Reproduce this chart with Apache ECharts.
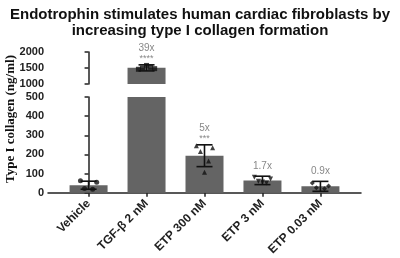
<!DOCTYPE html>
<html>
<head>
<meta charset="utf-8">
<script src="https://cdn.jsdelivr.net/npm/echarts@6/dist/echarts.min.js"></script>
<style>
  html, body { margin: 0; padding: 0; background: #fff; }
  #chart { width: 400px; height: 258px; }
</style>
</head>
<body>
<div id="chart"></div>
<script>
(function() {
    'use strict';

    // data
    var categories = ['Vehicle', 'TGF-\u03b2 2 nM', 'ETP 300 nM', 'ETP 3 nM', 'ETP 0.03 nM'];
    var means = [39, 1504, 193, 64, 33];
    var sds = [21, 95, 57, 22, 26];
    var foldLabels = ['', '39x', '5x', '1.7x', '0.9x'];
    var sigLabels = ['', '****', '***', '', ''];
    var vehiclePts = [62, 55, 22, 18];
    var tgfPts = [1460, 1480, 1500, 1520, 1580];
    var etp300Pts = [245, 235, 215, 165, 107];
    var etp3Pts = [80, 72, 60, 50, 56];
    var etp003Pts = [50, 35, 25, 20];
    var yTicksLow = [0, 500, 100];     // min, max, interval
    var yTicksHigh = [1000, 2000, 500];

    var groups = [vehiclePts, tgfPts, etp300Pts, etp3Pts, etp003Pts];
    var symbols = ['circle', 'rect', 'triangle', 'triangle', 'diamond'];
    var symbolRot = [0, 0, 0, 180, 0];
    var jitter = [-0.14, 0.14, -0.07, 0.07, 0];

    var barColor = '#646464';
    var axisColor = '#222';
    var labelFont = 'Liberation Sans, Arial, sans-serif';

    function barData(lo) {
        return means.map(function(v, i) {
            return (v >= lo) ? [i, v] : [i, null];
        });
    }

    function pointSeries(xIdx, lo, hi) {
        var out = [];
        groups.forEach(function(pts, i) {
            var d = [];
            pts.forEach(function(v, k) {
                if (v >= lo && v <= hi) d.push([i + jitter[k % jitter.length], v]);
            });
            out.push({
                type: 'scatter',
                xAxisIndex: xIdx,
                yAxisIndex: xIdx,
                symbol: symbols[i],
                symbolRotate: symbolRot[i],
                symbolSize: 5,
                itemStyle: { color: '#111' },
                z: 4,
                data: d
            });
        });
        return out;
    }

    function errorData(lo, hi) {
        var d = [];
        means.forEach(function(v, i) {
            if (v >= lo && v <= hi) d.push([i, v, sds[i]]);
        });
        return d;
    }

    function renderError(params, api) {
        var i = api.value(0), m = api.value(1), sd = api.value(2);
        var top = api.coord([i, m + sd]);
        var bot = api.coord([i, m - sd]);
        var w = 8;
        var st = { stroke: '#111', lineWidth: 1.6 };
        var kids = [
            { type: 'line', shape: { x1: top[0], y1: top[1], x2: bot[0], y2: bot[1] }, style: st },
            { type: 'line', shape: { x1: top[0] - w, y1: top[1], x2: top[0] + w, y2: top[1] }, style: st },
            { type: 'line', shape: { x1: bot[0] - w, y1: bot[1], x2: bot[0] + w, y2: bot[1] }, style: st }
        ];
        var sig = sigLabels[i];
        if (sig) {
            kids.push({ type: 'text', x: top[0], y: top[1] - 6,
                style: { text: sig, fill: '#888', font: '9px ' + labelFont, align: 'center', verticalAlign: 'middle' } });
        }
        if (foldLabels[i]) {
            kids.push({ type: 'text', x: top[0], y: top[1] - (sig ? 17 : 10),
                style: { text: foldLabels[i], fill: '#888', font: '10px ' + labelFont, align: 'center', verticalAlign: 'middle' } });
        }
        return { type: 'group', children: kids };
    }

    var xBase = {
        type: 'value',
        min: -0.7,
        max: 4.7,
        splitLine: { show: false }
    };

    var yLabel = {
        fontFamily: labelFont,
        fontSize: 11,
        fontWeight: 'bold',
        color: '#222',
        margin: 4,
        formatter: function(v) { return String(v); }
    };

    var option = {
        animation: false,
        backgroundColor: '#fff',
        title: {
            text: 'Endotrophin stimulates human cardiac fibroblasts by\nincreasing type I collagen formation',
            left: 'center',
            top: 2,
            textStyle: {
                fontFamily: labelFont,
                fontSize: 15,
                fontWeight: 'bold',
                color: '#111',
                lineHeight: 16
            }
        },
        graphic: [{
            type: 'text',
            x: 11,
            y: 119,
            rotation: Math.PI / 2,
            style: {
                text: 'Type I collagen (ng/ml)',
                font: 'bold 13px Liberation Serif, Times New Roman, serif',
                fill: '#111',
                align: 'center',
                verticalAlign: 'middle'
            }
        }],
        grid: [
            { left: 48, right: 39, top: 52, height: 32 },
            { left: 48, right: 39, top: 97, height: 100 }
        ],
        xAxis: [
            Object.assign({}, xBase, {
                gridIndex: 0,
                show: false
            }),
            Object.assign({}, xBase, {
                gridIndex: 1,
                axisLine: { show: true, onZero: false, lineStyle: { color: axisColor, width: 1.5 } },
                axisTick: { show: true, length: 4, customValues: [0, 1, 2, 3, 4], lineStyle: { color: axisColor, width: 1.5 } },
                axisLabel: {
                    customValues: [0, 1, 2, 3, 4],
                    rotate: 45,
                    margin: 9,
                    fontFamily: labelFont,
                    fontSize: 12,
                    fontWeight: 'bold',
                    color: '#222',
                    formatter: function(v) { return categories[Math.round(v)]; }
                }
            })
        ],
        yAxis: [
            {
                type: 'value',
                gridIndex: 0,
                min: yTicksHigh[0],
                max: yTicksHigh[1],
                interval: yTicksHigh[2],
                splitLine: { show: false },
                axisLine: { show: true, lineStyle: { color: axisColor, width: 1.5 } },
                axisTick: { show: true, length: 4, lineStyle: { color: axisColor, width: 1.5 } },
                axisLabel: yLabel
            },
            {
                type: 'value',
                gridIndex: 1,
                min: yTicksLow[0],
                max: yTicksLow[1],
                interval: yTicksLow[2],
                splitLine: { show: false },
                axisLine: { show: true, lineStyle: { color: axisColor, width: 1.5 } },
                axisTick: { show: true, length: 4, lineStyle: { color: axisColor, width: 1.5 } },
                axisLabel: yLabel
            }
        ],
        series: [
            {
                type: 'bar',
                xAxisIndex: 0,
                yAxisIndex: 0,
                barWidth: 38,
                itemStyle: { color: barColor },
                data: barData(yTicksHigh[0])
            },
            {
                type: 'bar',
                xAxisIndex: 1,
                yAxisIndex: 1,
                barWidth: 38,
                clip: true,
                itemStyle: { color: barColor },
                data: means.map(function(v, i) { return [i, v]; })
            },
            {
                type: 'custom',
                xAxisIndex: 0,
                yAxisIndex: 0,
                z: 5,
                renderItem: renderError,
                data: errorData(yTicksHigh[0], yTicksHigh[1])
            },
            {
                type: 'custom',
                xAxisIndex: 1,
                yAxisIndex: 1,
                z: 5,
                renderItem: renderError,
                data: errorData(yTicksLow[0], yTicksLow[1])
            }
        ].concat(pointSeries(0, yTicksHigh[0], yTicksHigh[1]), pointSeries(1, yTicksLow[0], yTicksLow[1]))
    };

    var myChart = echarts.init(document.getElementById('chart'));
    myChart.setOption(option);
})();
</script>
</body>
</html>
